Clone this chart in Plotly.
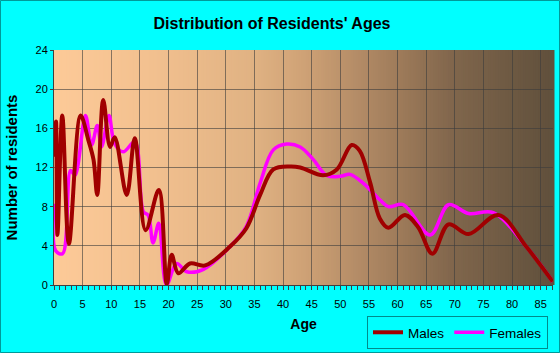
import plotly.graph_objects as go

# ---- data ----
males_age = [0, 0.35, 0.6, 1.45, 2.6, 4.65, 6.0, 6.9, 7.55, 8.6, 9.8, 10.6, 12.7, 14.1,
             16.0, 18.3, 19.7, 20.55, 21.7, 23.75, 26.4, 30.7, 33.6, 36, 38.3, 41.2, 43,
             47, 49.4, 52, 53.4, 55.2, 56.9, 58.4, 61.3, 63.6, 66.1, 68.9, 72.4, 77.6,
             82.5, 87.1]
males = [13.1, 16.7, 5.1, 17.3, 4.2, 17.3, 14.8, 12.8, 9.2, 18.9, 14.1, 15.1, 9.2, 15.0,
         5.6, 9.7, 0.1, 3.1, 1.2, 2.2, 2.0, 3.9, 5.8, 9.2, 11.8, 12.1, 12.0,
         11.2, 11.8, 14.3, 13.7, 10.5, 6.8, 5.85, 7.15, 5.9, 3.2, 6.2, 5.2, 7.15,
         3.9, 0.34]

females_age = [0, 0.3, 1.5, 2.9, 3.66, 5.5, 6.57, 7.56, 8.3, 9.6, 10.6, 12.1, 14.1, 15.6,
               16.45, 17.3, 18.3, 19.65, 21.4, 23.2, 26.1, 30.7, 33.6, 36, 38.3, 40.6,
               43, 45.3, 47.6, 50, 51.7, 54, 56.9, 58.4, 61, 65.7, 68.9, 72.4, 76.7,
               82.5, 87.1]
females = [8.3, 3.5, 3.2, 11.7, 11.2, 17.3, 14.3, 16.3, 14.1, 17.3, 14.4, 13.6, 14.6, 7.5,
           7.1, 4.3, 6.3, 0.0, 2.2, 1.35, 1.6, 3.9, 6.0, 10.4, 13.8, 14.4,
           14.1, 12.8, 11.2, 11.1, 11.3, 10.4, 8.7, 8.0, 8.2, 5.1, 8.2, 7.3, 7.4,
           3.9, 0.34]

x_ticks = list(range(0, 90, 5))
y_ticks = list(range(0, 28, 4))

# ---- layout constants ----
W, H = 560, 353
L, R, T, B = 54, 7, 50, 68
pw, ph = W - L - R, H - T - B

# background gradient stops (fraction across plot, rgb)
stops = [(0.0, (253, 202, 152)), (0.2, (242, 192, 143)), (0.4, (224, 178, 131)),
         (0.5, (207, 162, 118)), (0.6, (182, 142, 104)), (0.7, (156, 121, 89)),
         (0.8, (128, 102, 76)), (1.0, (96, 80, 60))]

def color_at(f):
    for (f0, c0), (f1, c1) in zip(stops[:-1], stops[1:]):
        if f0 <= f <= f1:
            t = (f - f0) / (f1 - f0)
            return "rgb(%d,%d,%d)" % tuple(round(a + (b - a) * t) for a, b in zip(c0, c1))
    return "rgb(%d,%d,%d)" % stops[-1][1]

shapes = []
N = 200
for i in range(N):
    shapes.append(dict(type="rect", xref="x domain", yref="y domain",
                       x0=i / N, x1=(i + 1) / N + 0.003, y0=0, y1=1,
                       fillcolor=color_at((i + 0.5) / N), line_width=0, layer="below"))
# outer teal border
shapes.append(dict(type="rect", xref="paper", yref="paper",
                   x0=(0.5 - L) / pw, x1=(W - 0.5 - L) / pw,
                   y0=-(B - 0.5) / ph, y1=1 + (T - 0.5) / ph,
                   line=dict(color="#009999", width=1), fillcolor="rgba(0,0,0,0)", layer="above"))

fig = go.Figure()
fig.add_trace(go.Scatter(x=females_age, y=females, name="Females", mode="lines",
                         line=dict(color="#FF00FF", width=3.5, shape="spline", smoothing=1.0),
                         legendrank=2))
fig.add_trace(go.Scatter(x=males_age, y=males, name="Males", mode="lines",
                         line=dict(color="#A00000", width=4, shape="spline", smoothing=1.0),
                         legendrank=1))

font = "Liberation Sans, Arial, sans-serif"
fig.update_layout(
    width=W, height=H,
    margin=dict(l=L, r=R, t=T, b=B, pad=0, autoexpand=False),
    paper_bgcolor="#00FFFF", plot_bgcolor="#FDCA98",
    title=dict(text="<b>Distribution of Residents' Ages</b>", x=272 / W, xref="container",
               xanchor="center", y=1 - 23 / H, yref="container", yanchor="middle",
               font=dict(family=font, size=16, color="#000000")),
    shapes=shapes,
    showlegend=True,
    legend=dict(orientation="h", x=(367 - L) / pw, y=-(316 - T - ph) / ph,
                xanchor="left", yanchor="top", bgcolor="#00FFFF",
                bordercolor="#008B8B", borderwidth=1,
                font=dict(family=font, size=13.5, color="#000000"),
                itemwidth=30, traceorder="normal"),
    xaxis=dict(range=[0, 87.15], tickvals=x_ticks, ticktext=[str(v) for v in x_ticks],
               automargin=False,
               showgrid=True, gridcolor="rgba(60,60,60,0.6)", gridwidth=1,
               zeroline=False, showline=True, linecolor="#404040", linewidth=1,
               ticks="outside", ticklen=4, tickcolor="#404040", ticklabelstandoff=5,
               minor=dict(dtick=1, ticks="outside", ticklen=4, tickcolor="#404040", showgrid=False),
               tickfont=dict(family=font, size=11, color="#000000"),
               title=dict(text="<b>Age</b>", standoff=9,
                          font=dict(family=font, size=14, color="#000000"))),
    yaxis=dict(range=[0, 24], tickvals=y_ticks, ticktext=[str(v) for v in y_ticks],
               automargin=False,
               showgrid=True, gridcolor="rgba(60,60,60,0.6)", gridwidth=1,
               zeroline=False, showline=True, linecolor="#404040", linewidth=1,
               ticks="outside", ticklen=3, tickcolor="#404040",
               tickfont=dict(family=font, size=11, color="#000000"),
               title=dict(text="<b>Number of residents</b>", standoff=14,
                          font=dict(family=font, size=15, color="#000000"))),
)

fig.write_html("out.html")
